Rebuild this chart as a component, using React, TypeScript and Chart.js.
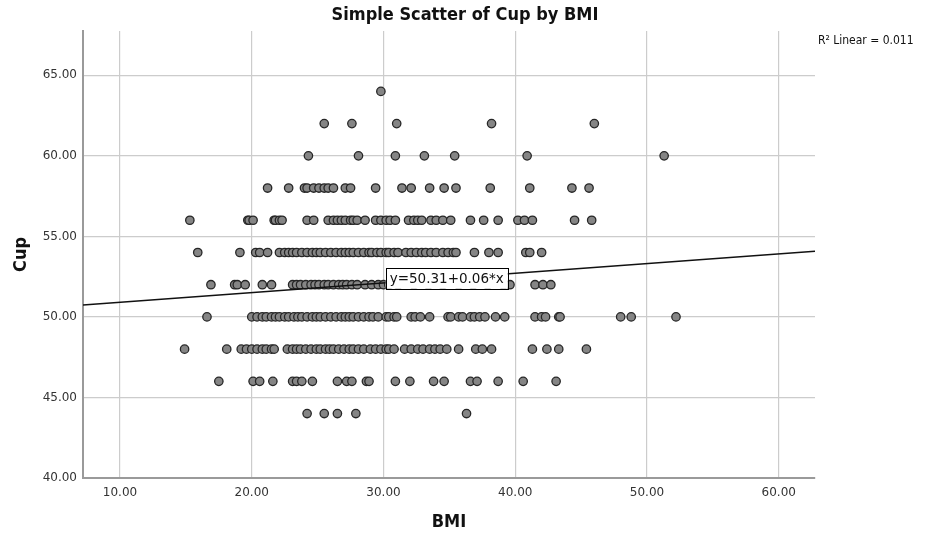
import React, { useEffect, useRef } from "react";
import { Chart, registerables } from "chart.js";

Chart.register(...registerables);

// ---- data ----
const xTicks = [10, 20, 30, 40, 50, 60];
const yTicks = [40, 45, 50, 55, 60, 65];
const xRange = [7.19, 62.75];
const yRange = [40, 67.75];

const bmiCup64 = [29.8];
const bmiCup62 = [25.5, 27.6, 31.0, 38.2, 46.0];
const bmiCup60 = [24.3, 28.1, 30.9, 33.1, 35.4, 40.9, 51.3];
const bmiCup58 = [21.2, 22.8, 24.0, 24.2, 24.7, 25.1, 25.5, 25.8, 26.2, 27.1, 27.5, 29.4, 31.4, 32.1, 33.5, 34.6, 35.5, 38.1, 41.1, 44.3, 45.6];
const bmiCup56 = [15.3, 19.7, 19.8, 20.1, 21.7, 21.8, 22.1, 22.3, 24.2, 24.7, 25.8, 26.2, 26.5, 26.8, 27.1, 27.5, 27.7, 28.0, 28.6, 29.4, 29.8, 30.2, 30.5, 30.9, 31.9, 32.3, 32.6, 32.9, 33.6, 34.0, 34.5, 35.1, 36.6, 37.6, 38.7, 40.2, 40.7, 41.3, 44.5, 45.8];
const bmiCup54 = [15.9, 19.1, 20.3, 20.6, 21.2, 22.1, 22.5, 22.8, 23.1, 23.4, 23.8, 24.2, 24.6, 24.9, 25.2, 25.6, 26.0, 26.4, 26.8, 27.1, 27.4, 27.7, 28.1, 28.5, 28.9, 29.1, 29.5, 29.8, 30.2, 30.4, 30.8, 31.1, 31.7, 32.1, 32.5, 32.9, 33.2, 33.6, 34.0, 34.5, 34.9, 35.3, 35.5, 36.9, 38.0, 38.7, 40.8, 41.1, 42.0];
const bmiCup52 = [16.9, 18.7, 18.9, 19.5, 20.8, 21.5, 23.1, 23.4, 23.7, 24.1, 24.5, 24.8, 25.1, 25.5, 25.8, 26.2, 26.6, 26.9, 27.2, 27.6, 28.0, 28.6, 29.1, 29.6, 30.0, 30.4, 31.1, 32.3, 33.4, 34.5, 35.7, 36.8, 37.9, 39.1, 39.6, 41.5, 42.1, 42.7];
const bmiCup50 = [16.6, 20.0, 20.4, 20.8, 21.1, 21.5, 21.8, 22.1, 22.5, 22.8, 23.2, 23.5, 23.8, 24.2, 24.6, 24.9, 25.2, 25.6, 26.0, 26.4, 26.8, 27.1, 27.4, 27.7, 28.1, 28.5, 28.9, 29.2, 29.6, 30.2, 30.4, 30.8, 31.0, 32.1, 32.4, 32.8, 33.5, 34.9, 35.1, 35.7, 36.0, 36.6, 36.9, 37.3, 37.7, 38.5, 39.2, 41.5, 42.0, 42.3, 43.3, 43.4, 48.0, 48.8, 52.2];
const bmiCup48 = [14.9, 18.1, 19.2, 19.6, 20.0, 20.4, 20.8, 21.1, 21.5, 21.7, 22.7, 23.1, 23.4, 23.7, 24.1, 24.5, 24.9, 25.2, 25.6, 25.9, 26.2, 26.6, 27.0, 27.4, 27.7, 28.1, 28.5, 29.0, 29.4, 29.8, 30.2, 30.4, 30.8, 31.6, 32.1, 32.6, 33.0, 33.5, 33.9, 34.3, 34.8, 35.7, 37.0, 37.5, 38.2, 41.3, 42.4, 43.3, 45.4];
const bmiCup46 = [17.5, 20.1, 20.6, 21.6, 23.1, 23.4, 23.8, 24.6, 26.5, 27.2, 27.6, 28.7, 28.9, 30.9, 32.0, 33.8, 34.6, 36.6, 37.1, 38.7, 40.6, 43.1];
const bmiCup44 = [24.2, 25.5, 26.5, 27.9, 36.3];

const cupLevels = [64, 62, 60, 58, 56, 54, 52, 50, 48, 46, 44];
const bmiByCup = [bmiCup64, bmiCup62, bmiCup60, bmiCup58, bmiCup56, bmiCup54, bmiCup52, bmiCup50, bmiCup48, bmiCup46, bmiCup44];

const fitIntercept = 50.31;
const fitSlope = 0.06;
const fitLabelX = 34.8;
const r2Linear = 0.011;

const titleText = "Simple Scatter of Cup by BMI";
const xTitle = "BMI";
const yTitle = "Cup";

const NARROW = '"Liberation Sans Narrow", "DejaVu Sans Condensed", "Liberation Sans", sans-serif';
const TICKFONT = '"DejaVu Sans", sans-serif';

export default function App() {
  const ref = useRef<HTMLCanvasElement | null>(null);

  useEffect(() => {
    document.body.style.margin = "0";
    const canvas = ref.current;
    if (!canvas) return;

    const points: { x: number; y: number }[] = [];
    cupLevels.forEach((cup, i) => {
      bmiByCup[i].forEach((b) => points.push({ x: b, y: cup }));
    });

    const fitLine = [
      { x: xRange[0], y: fitIntercept + fitSlope * xRange[0] },
      { x: xRange[1], y: fitIntercept + fitSlope * xRange[1] },
    ];

    const textPlugin = {
      id: "texts",
      afterDatasetsDraw(chart: any) {
        const ctx = chart.ctx;
        const xs = chart.scales.x;
        const ys = chart.scales.y;
        const px = xs.getPixelForValue(fitLabelX);
        const py = ys.getPixelForValue(fitIntercept + fitSlope * fitLabelX);
        const label = `y=${fitIntercept.toFixed(2)}+${fitSlope.toFixed(2)}*x`;
        ctx.save();
        ctx.font = `13.5px ${TICKFONT}`;
        const w = ctx.measureText(label).width + 8;
        const h = 21;
        ctx.fillStyle = "#ffffff";
        ctx.fillRect(px - w / 2, py - h / 2, w, h);
        ctx.strokeStyle = "#000";
        ctx.lineWidth = 1;
        ctx.strokeRect(Math.round(px - w / 2) + 0.5, Math.round(py - h / 2) + 0.5, Math.round(w), h);
        ctx.fillStyle = "#111";
        ctx.textAlign = "center";
        ctx.textBaseline = "middle";
        ctx.fillText(label, px, py + 1);
        ctx.restore();
      },
      afterDraw(chart: any) {
        const ctx = chart.ctx;
        const area = chart.chartArea;
        ctx.save();
        ctx.fillStyle = "#111";
        ctx.textAlign = "center";
        ctx.textBaseline = "middle";
        ctx.font = `bold 18px ${NARROW}`;
        ctx.fillText(titleText, 465, 15);
        ctx.fillText(xTitle, (area.left + area.right) / 2, 522);
        ctx.save();
        ctx.translate(21, (area.top + area.bottom) / 2);
        ctx.rotate(-Math.PI / 2);
        ctx.fillText(yTitle, 0, 0);
        ctx.restore();
        ctx.textAlign = "left";
        ctx.font = `12px ${NARROW}`;
        ctx.fillText(`R\u00B2 Linear = ${r2Linear.toFixed(3)}`, 818, 41);
        ctx.restore();
      },
    };

    const chart = new Chart(canvas, {
      type: "scatter",
      data: {
        datasets: [
          {
            type: "line",
            data: fitLine,
            borderColor: "#111",
            borderWidth: 1.5,
            pointRadius: 0,
            fill: false,
            order: 0,
          } as any,
          {
            data: points,
            backgroundColor: "#858585",
            borderColor: "#262626",
            borderWidth: 1.3,
            pointRadius: 4.2,
            order: 1,
          },
        ],
      },
      options: {
        animation: false,
        responsive: false,
        layout: { padding: { left: 0, top: 31, right: 115, bottom: 0 } },
        plugins: { legend: { display: false }, title: { display: false }, tooltip: { enabled: false } },
        scales: {
          x: {
            type: "linear",
            min: xRange[0],
            max: xRange[1],
            afterBuildTicks: (s: any) => {
              s.ticks = xTicks.map((v) => ({ value: v }));
            },
            afterFit: (s: any) => {
              s.height = 56;
            },
            grid: { color: "#cccccc", lineWidth: 1.2, drawTicks: false },
            border: { color: "#9a9a9a", width: 2 },
            ticks: {
              padding: 8,
              color: "#333",
              font: { family: TICKFONT, size: 12 },
              callback: (v: any) => Number(v).toFixed(2),
            },
          },
          y: {
            type: "linear",
            min: yRange[0],
            max: yRange[1],
            afterBuildTicks: (s: any) => {
              s.ticks = yTicks.map((v) => ({ value: v }));
            },
            afterFit: (s: any) => {
              s.width = 83;
            },
            grid: { color: "#cccccc", lineWidth: 1.2, drawTicks: false },
            border: { color: "#9a9a9a", width: 2 },
            ticks: {
              padding: 6,
              color: "#333",
              font: { family: TICKFONT, size: 12 },
              callback: (v: any) => Number(v).toFixed(2),
            },
          },
        },
      },
      plugins: [textPlugin],
    });

    return () => chart.destroy();
  }, []);

  return (
    <div style={{ width: 930, height: 534 }}>
      <canvas ref={ref} width={930} height={534} style={{ display: "block" }} />
    </div>
  );
}
